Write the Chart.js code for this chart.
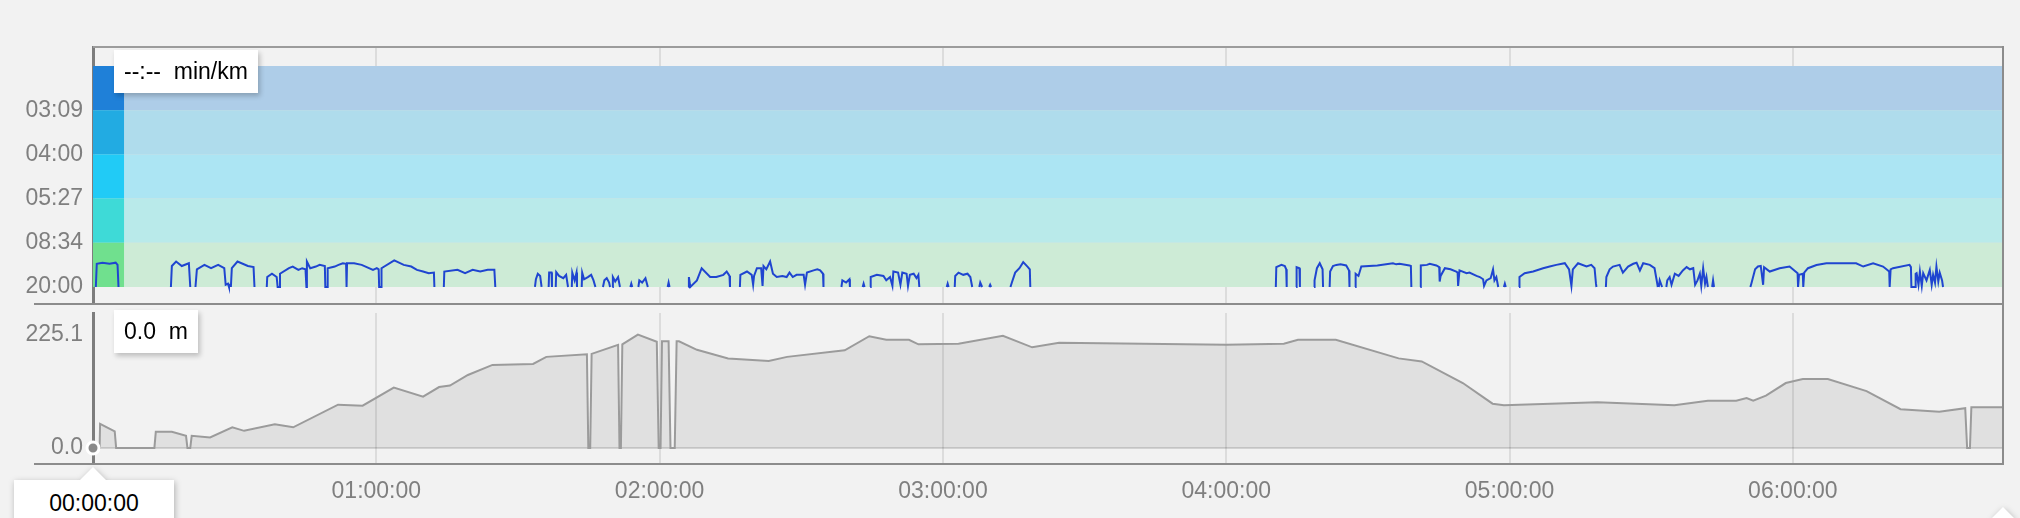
<!DOCTYPE html>
<html>
<head>
<meta charset="utf-8">
<title>Pace / elevation</title>
<script src="https://cdn.jsdelivr.net/npm/chart.js@4.4.0/dist/chart.umd.min.js"></script>
<style>
  html, body { margin: 0; padding: 0; background: #f2f2f2; width: 2020px; height: 518px; overflow: hidden;
    font-family: Helvetica, Arial, "Liberation Sans", sans-serif; }
  canvas { position: absolute; left: 0; }
  #paceChart { top: 0; }
  #elevChart { top: 304px; }
  .rule { position: absolute; background: #8c8c8c; }
  .tip { position: absolute; background: #fff; color: #000; font-size: 23px; white-space: pre;
    padding: 0 10px; box-sizing: border-box; box-shadow: 2px 3px 5px rgba(0,0,0,0.22); }
  .caret { position: absolute; width: 0; height: 0; border-left: 13px solid transparent;
    border-right: 13px solid transparent; border-bottom: 13px solid #fff; }
  .shadowed { position: absolute; left: 0; top: 0; filter: drop-shadow(1px 2px 3px rgba(0,0,0,0.28)); }
</style>
</head>
<body>
<canvas id="paceChart" width="2020" height="305"></canvas>
<canvas id="elevChart" width="2020" height="214"></canvas>

<!-- frame -->
<div class="rule" style="left:93px;top:46px;width:1911px;height:2px;background:#9c9c9c"></div>
<div class="rule" style="left:2002px;top:46px;width:2px;height:419px"></div>
<div class="rule" style="left:34px;top:303px;width:1970px;height:2px"></div>
<div class="rule" style="left:34px;top:463px;width:1970px;height:2px"></div>

<!-- hover readouts -->
<div class="tip" style="left:114px;top:50px;height:43px;line-height:43px">--:--  min/km</div>
<div class="tip" style="left:114px;top:310px;height:43px;line-height:43px">0.0  m</div>
<div class="shadowed">
  <div class="caret" style="left:80px;top:467px"></div>
  <div class="tip" style="left:14px;top:480px;width:160px;height:60px;line-height:46px;box-shadow:none;text-align:center">00:00:00</div>
  <div class="caret" style="left:1990px;top:507px"></div>
</div>

<script>
// ── DATA ─────────────────────────────────────────

// time axis (minutes from start)
const X_MAX = 404.5;
const HOUR_TICKS = [0, 60, 120, 180, 240, 300, 360];

// speed zones in km/h (bottom → top), shown as pace labels
const PACE_ZONES = [3, 7, 11, 15, 19, 23];
const ZONE_LIGHT = ["#cdebd6", "#b9eaea", "#ace5f3", "#afdcec", "#aecde8"];
const ZONE_SOLID = ["#70e08e", "#3edad7", "#21cbf6", "#22abe2", "#1f80d8"];
const ZONE_COLUMN_END = 6.6;

// speed segments [minute, km/h]; 3 km/h is the floor of the chart
const PACE_SEGMENTS = [
  [[0.6,3],[0.8,5.1],[2.0,5.2],[3.5,5.1],[4.8,5.2],[5.2,5.0],[5.4,3]],
  [[16.5,3],[16.7,4.9],[17.6,5.3],[18.8,4.9],[20.3,5.15],[20.6,3]],
  [[21.7,3],[22.0,4.6],[23.6,5.0],[25.0,4.7],[26.5,5.0],[27.8,4.7],[28.1,3.2],[28.6,3.3],[28.8,3]],
  [[29.2,3],[29.4,4.7],[30.6,5.3],[32.8,4.9],[34.0,4.8],[34.2,3]],
  [[36.8,3],[36.9,3.9],[37.9,4.2],[38.9,3.9],[39.1,3],[39.5,3],[39.6,4.2],[41.5,4.7],[42.3,4.85],[43.5,4.55],
   [44.3,4.7],[45.0,4.6],[45.2,3],[45.3,5.3],[46.0,4.7],[47.2,4.85],[48.0,5.0],[49.1,4.9],[49.2,3],[49.6,3],
   [49.7,4.7],[51.2,4.85],[52.0,5.0],[52.9,5.15],[53.6,5.1],[53.7,3],[53.8,5.15],[55.3,5.15],[56.9,5.0],
   [59.3,4.55],[60.1,4.7],[60.5,4.6],[60.6,3],[61.0,3],[61.1,4.7],[63.8,5.4],[65.8,5.0],[67.4,4.85],
   [68.6,4.55],[69.9,4.4],[71.1,4.25],[72.2,4.3],[72.3,3]],
  [[74.3,3],[74.4,4.4],[77.2,4.55],[78.8,4.25],[80.4,4.55],[82.0,4.4],[83.6,4.55],[85.0,4.55],[85.2,3]],
  [[93.6,3],[93.8,3.7],[94.2,4.2],[94.7,4.0],[95.0,3]],
  [[96.5,3],[96.6,4.3],[97.1,4.3],[97.2,3]],
  [[98.0,3],[98.1,4.35],[98.7,4.0],[99.6,3.8],[100.2,4.1],[100.6,3]],
  [[101.4,3],[101.5,4.3],[102.0,3.6],[102.4,4.3],[102.5,3]],
  [[103.5,3],[103.6,4.3],[104.0,3.7],[104.8,3.9],[105.5,4.1],[106.0,3.6],[106.4,3]],
  [[108.0,3],[108.3,3.6],[108.8,3.8],[109.3,3.4],[109.5,3]],
  [[110.0,3],[110.1,3.9],[110.6,3.5],[111.2,3.9],[111.6,3]],
  [[113.8,3],[114.0,3.3],[114.2,3]],
  [[115.5,3],[115.7,3.6],[116.3,3.4],[117.0,3.8],[117.5,3]],
  [[121.7,3],[121.9,3.4],[122.1,3]],
  [[126.1,3],[126.2,3.9],[126.5,3.0],[127.9,3.6],[128.9,4.7],[130.7,3.9],[132.0,3.9],[133.5,4.1],[134.2,4.4],[134.8,4.0],[134.9,3]],
  [[137.0,3],[137.1,4.1],[138.5,4.4],[139.5,4.1],[139.8,3.2],[140.0,4.0],[140.6,4.7],[141.5,4.7],[141.8,3.1],
   [142.0,4.9],[142.6,4.6],[143.4,5.3],[144.0,4.2],[144.8,3.9],[146.0,4.0],[146.9,3.9],[147.5,4.3],[148.2,3.9],
   [149.0,4.1],[150.5,4.1],[150.8,3.2],[151.2,4.3],[152.6,4.5],[153.4,4.6],[154.0,4.5],[154.6,4.2],[154.7,3]],
  [[158.5,3],[158.7,3.6],[159.5,3.4],[160.2,3.7],[160.3,3]],
  [[163.0,3],[163.2,3.3],[163.4,3]],
  [[164.6,3],[164.7,3.9],[166.0,4.1],[167.4,4.0],[168.0,3.6],[168.8,3.9],[169.3,3.1],[169.5,4.4],[170.5,4.3],
   [171.0,3.2],[171.4,4.3],[172.3,4.2],[172.6,3.1],[173.0,4.1],[173.8,4.2],[174.4,3.8],[174.8,4.1],[175.0,3]],
  [[180.8,3],[181.0,3.3],[181.2,3]],
  [[182.5,3],[182.6,4.0],[183.3,4.3],[184.3,4.1],[185.2,4.2],[185.8,3.9],[186.2,3]],
  [[187.7,3],[187.9,3.4],[188.3,3]],
  [[189.8,3],[190.0,3.2],[190.2,3]],
  [[194.3,3],[194.6,3.4],[195.3,4.3],[196.2,4.7],[197.0,5.25],[198.0,4.8],[198.4,4.6],[198.5,3]],
  [[250.5,3],[250.6,4.8],[251.7,5.0],[252.4,4.9],[252.7,4.6],[252.8,3]],
  [[254.8,3],[254.9,4.8],[255.5,4.7],[255.6,3]],
  [[258.6,3],[258.7,3.6],[259.2,4.7],[259.8,5.15],[260.4,4.6],[260.5,3]],
  [[261.9,3],[262.0,4.4],[262.6,4.9],[263.3,5.0],[264.2,5.05],[265.4,4.95],[266.0,4.5],[266.1,3]],
  [[267.3,3],[267.4,4.2],[268.0,4.0],[268.6,4.85],[272.0,4.95],[275.3,5.15],[276.0,5.05],[276.7,5.1],[278.8,4.95],[279.1,4.9],[279.2,3]],
  [[281.1,3],[281.2,4.95],[282.5,5.0],[283.1,5.1],[284.5,4.95],[285.1,4.8],[285.2,3.5],[285.4,4.0],[286.3,4.7],
   [287.5,4.6],[288.7,4.4],[289.0,4.3],[289.1,3.1],[289.4,4.5],[290.9,4.25],[291.5,4.3],[293.0,4.0],[293.7,3.9],
   [294.4,3.7],[294.6,3.1],[295.1,3.6],[296.0,3.8],[296.5,4.6],[296.8,3.6],[297.2,3.9],[297.6,3]],
  [[298.8,3],[299.0,3.3],[299.2,3]],
  [[302.0,3],[302.1,3.9],[303.2,4.25],[305.0,4.4],[307.1,4.7],[308.5,4.85],[309.9,5.0],[311.7,5.15],[312.6,4.6],
   [313.1,3.1],[313.4,4.6],[314.5,5.15],[316.3,4.85],[317.3,5.0],[318.0,4.7],[318.3,3.3],[318.4,3]],
  [[320.4,3],[320.5,3.9],[321.2,4.6],[321.9,4.85],[323.3,5.0],[324.0,4.3],[325.1,4.85],[326.2,5.1],[326.9,5.2],
   [327.6,4.5],[328.3,5.15],[329.7,5.0],[330.7,4.7],[331.2,3.5],[331.4,3]],
  [[331.6,3],[331.8,3.6],[332.3,3]],
  [[333.2,3],[333.4,3.6],[333.9,3.9],[334.3,3.2],[335.0,4.2],[335.8,4.0],[336.7,4.5],[337.5,4.8],[338.2,4.6],
   [338.9,4.7],[339.3,3.2],[339.8,3.6],[340.3,4.2],[340.6,3.1],[341.0,4.7],[341.4,3.3],[341.7,3.9],[342.0,3]],
  [[342.9,3],[343.1,3.6],[343.3,3]],
  [[351.0,3],[351.2,3.3],[352.0,4.6],[352.6,4.85],[353.2,4.9],[353.7,3.2],[353.9,4.8],[355.1,4.4],[357.2,4.7],
   [359.3,4.85],[361.0,4.25],[361.1,3],[361.3,4.1],[362.1,4.2],[362.2,3],[362.4,4.3],[363.2,4.7],[365.0,4.99],
   [367.1,5.15],[369.9,5.15],[373.4,5.15],[374.9,4.85],[377.0,5.15],[379.1,4.85],[380.4,4.4],[380.5,3],
   [380.7,4.6],[381.2,4.7],[384.7,5.0],[385.0,4.8],[385.1,3],[385.9,3],[386.0,4.2],[386.2,4.25],[386.6,3.2],
   [386.9,4.4],[387.3,3.1],[387.6,4.25],[388.3,3.6],[389.0,4.55],[389.4,3.2],[389.7,4.1],[390.1,3.4],
   [390.4,4.85],[390.8,3.5],[391.1,4.3],[391.6,3.6],[391.8,3]],
];

// elevation [minute, metres]
const ELEVATION = [
  [0,0],[1.4,0],[1.5,48],[4.6,33],[4.9,0],[13.0,0],[13.3,32],[16.7,32],[19.7,24],[20.0,0],[20.6,0],[20.9,24],
  [24.8,21],[29.5,41],[32.0,34],[38.5,47],[42.4,41],[51.9,86],[57.1,84],[63.7,120],[69.9,102],[73.3,121],
  [75.6,124],[79.4,145],[84.6,165],[93.2,167],[96.0,181],[104.6,186],[104.9,0],[105.3,0],[105.6,187],
  [111.2,205],[111.5,0],[111.8,0],[112.1,206],[115.4,225.1],[119.4,211],[119.8,0],[120.2,0],[120.5,212],
  [121.9,212],[122.3,0],[123.2,0],[123.6,212],[124.1,212],[127.9,195],[134.5,178],[143.1,173],[147.0,181],
  [159.2,194],[164.4,222],[168.0,215],[172.8,215],[174.8,206],[183.3,207],[192.7,223],[198.9,200],[204.6,209],
  [240.0,205],[252.2,207],[255.2,215],[263.2,215],[276.5,178],[281.4,172],[290.1,129],[296.4,88],[298.8,85],
  [318.6,91],[334.9,85],[342.0,94],[348.0,94],[350.2,99],[351.6,94],[354.3,104],[358.5,129],[362.1,137],
  [367.4,137],[375.6,113],[382.8,77],[391.0,72],[396.5,79],[396.9,0],[397.5,0],[397.8,81],[404.5,81],
];

// ── HELPERS ──────────────────────────────────────

const pad2 = n => String(n).padStart(2, "0");

function fmtClock(min) {
  const s = Math.round(min * 60);
  return pad2(Math.floor(s / 3600)) + ":" + pad2(Math.floor(s / 60) % 60) + ":" + pad2(s % 60);
}

function fmtPace(kmh) {
  const sec = Math.floor(3600 / kmh);
  return pad2(Math.floor(sec / 60)) + ":" + pad2(sec % 60);
}

// keep label overhang from pushing the plot area around
function noOverhang(s) {
  s.paddingTop = 0; s.paddingBottom = 0; s.paddingLeft = 0; s.paddingRight = 0;
}

function flatBand(x0, x1, top, bottom, color) {
  return {
    data: [{ x: x0, y: top }, { x: x1, y: top }],
    fill: { value: bottom },
    backgroundColor: color,
    borderColor: "transparent",
    borderWidth: 0,
    pointRadius: 0,
  };
}

function timeAxis(showLabels) {
  return {
    type: "linear",
    min: 0,
    max: X_MAX,
    z: 1,
    afterBuildTicks: s => { s.ticks = HOUR_TICKS.map(v => ({ value: v })); },
    afterFit: s => { s.height = showLabels ? 54 : 1; noOverhang(s); },
    grid: { color: "rgba(0,0,0,0.09)", lineWidth: 2, drawTicks: false },
    border: { display: false },
    ticks: {
      display: showLabels,
      padding: 14,
      color: "#7f7f7f",
      font: { size: 23 },
      maxRotation: 0,
      callback: v => (v === 0 ? "" : fmtClock(v)),
    },
  };
}

Chart.defaults.font.family = 'Helvetica, Arial, "Liberation Sans", sans-serif';
Chart.defaults.animation = false;

// ── PACE CHART ───────────────────────────────────

function buildPaceChart() {
  const points = [];
  PACE_SEGMENTS.forEach((seg, i) => {
    if (i) points.push({ x: seg[0][0], y: null });
    seg.forEach(([x, y]) => points.push({ x, y }));
  });

  const solid = [], light = [];
  for (let i = 0; i < ZONE_LIGHT.length; i++) {
    const bottom = PACE_ZONES[i], top = PACE_ZONES[i + 1];
    solid.push(flatBand(0, ZONE_COLUMN_END, top, bottom, ZONE_SOLID[i]));
    light.push(flatBand(0, X_MAX, top, bottom, ZONE_LIGHT[i]));
  }

  new Chart(document.getElementById("paceChart"), {
    type: "line",
    data: {
      datasets: [
        {
          data: points,
          borderColor: "#1f45d0",
          borderWidth: 2,
          pointRadius: 0,
          spanGaps: false,
          tension: 0,
        },
        ...solid,
        ...light,
      ],
    },
    options: {
      responsive: false,
      devicePixelRatio: 1,
      events: [],
      layout: { padding: { top: 47, right: 17, left: 0, bottom: 0 } },
      plugins: { legend: { display: false }, tooltip: { enabled: false } },
      scales: {
        x: timeAxis(false),
        y: {
          min: 1.46,
          max: 24.72,
          z: 1,
          afterBuildTicks: s => { s.ticks = PACE_ZONES.slice(0, 5).map(v => ({ value: v })); },
          afterFit: s => { s.width = 93; noOverhang(s); },
          grid: {
            color: c => (c.tick && c.tick.value === PACE_ZONES[0] ? "transparent" : "#dedede"),
            lineWidth: 2,
            drawTicks: false,
          },
          border: { color: "#7d7d7d", width: 3 },
          ticks: { padding: 10, color: "#7f7f7f", font: { size: 23 }, callback: v => fmtPace(v) },
        },
      },
    },
  });
}

// ── ELEVATION CHART ──────────────────────────────

function buildElevationChart() {
  const elevMax = Math.max(...ELEVATION.map(p => p[1]));

  new Chart(document.getElementById("elevChart"), {
    type: "line",
    data: {
      datasets: [{
        data: ELEVATION.map(([x, y]) => ({ x, y })),
        borderColor: "#9b9b9b",
        borderWidth: 2,
        backgroundColor: "rgba(0,0,0,0.075)",
        fill: "origin",
        tension: 0,
        clip: false,
        pointRadius: c => (c.dataIndex === 0 ? 6 : 0),
        pointBackgroundColor: "#8a8a8a",
        pointBorderColor: "#ffffff",
        pointBorderWidth: 3,
      }],
    },
    options: {
      responsive: false,
      devicePixelRatio: 1,
      events: [],
      layout: { padding: { top: 0, right: 17, left: 0, bottom: 0 } },
      plugins: { legend: { display: false }, tooltip: { enabled: false } },
      scales: {
        x: timeAxis(true),
        y: {
          min: -31.9,
          max: 268.2,
          afterBuildTicks: s => { s.ticks = [0, elevMax].map(v => ({ value: v })); },
          afterFit: s => { s.width = 93; noOverhang(s); },
          grid: {
            color: c => (c.tick && c.tick.value === 0 ? "rgba(0,0,0,0.13)" : "transparent"),
            lineWidth: 2,
            drawTicks: false,
          },
          border: { color: "#7d7d7d", width: 3 },
          ticks: { padding: 10, color: "#7f7f7f", font: { size: 23 }, callback: v => v.toFixed(1) },
        },
      },
    },
  });
}

// ── INIT ─────────────────────────────────────────

buildPaceChart();
buildElevationChart();
</script>
</body>
</html>
